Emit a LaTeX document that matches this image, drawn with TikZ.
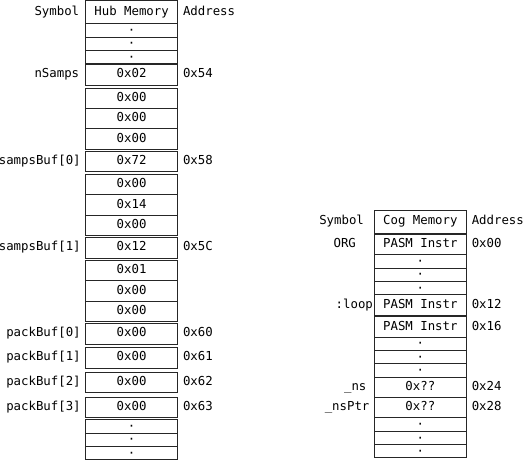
\documentclass[tikz,border=0pt]{standalone}
\usepackage{fontspec}
\setmainfont{DejaVu Sans Mono}
\usetikzlibrary{positioning}
\begin{document}
\begin{tikzpicture}[
    x=1bp,
    y=-1bp,
    font=\fontsize{12.4}{14}\selectfont,
    memcell/.style={
        rectangle,
        draw=black!85,
        line width=0.8bp,
        minimum width=92.5bp,
        minimum height=20.4bp,
        inner sep=0pt,
        outer sep=0pt,
        text height=9bp,
        text depth=2.6bp
      },
    dotcell/.style={memcell, minimum height=13.33bp, text height=8.4bp, text depth=0pt},
    headcell/.style={memcell, minimum height=23.3bp},
    symlabel/.style={inner sep=0pt, text height=9bp, text depth=2.6bp}
  ]
    \useasboundingbox (0,0) rectangle (525,460);

    % Hub memory column
    \node[headcell] (hubhead) at (131.6,11.95) {Hub Memory};
    \node[dotcell, below=0pt of hubhead] (hubdotA) {·};
    \node[dotcell, below=0pt of hubdotA] (hubdotB) {·};
    \node[dotcell, below=0pt of hubdotB] (hubdotC) {·};
    \node[memcell, below=1bp of hubdotC] (nsamps) {0x02};
    \node[memcell, below=3bp of nsamps] (nsampsB) {0x00};
    \node[memcell, below=0pt of nsampsB] (nsampsC) {0x00};
    \node[memcell, below=0pt of nsampsC] (nsampsD) {0x00};
    \node[memcell, below=1.8bp of nsampsD] (samps0) {0x72};
    \node[memcell, below=2.9bp of samps0] (samps0B) {0x00};
    \node[memcell, below=0pt of samps0B] (samps0C) {0x14};
    \node[memcell, below=0pt of samps0C] (samps0D) {0x00};
    \node[memcell, below=2.1bp of samps0D] (samps1) {0x12};
    \node[memcell, below=2.3bp of samps1] (samps1B) {0x01};
    \node[memcell, below=0pt of samps1B] (samps1C) {0x00};
    \node[memcell, below=0pt of samps1C] (samps1D) {0x00};
    \node[memcell, below=2.1bp of samps1D] (pack0) {0x00};
    \node[memcell, below=3.6bp of pack0] (pack1) {0x00};
    \node[memcell, below=4.3bp of pack1] (pack2) {0x00};
    \node[memcell, below=4.3bp of pack2] (pack3) {0x00};
    \node[dotcell, below=2.4bp of pack3] (hubdotD) {·};
    \node[dotcell, below=0pt of hubdotD] (hubdotE) {·};
    \node[dotcell, below=0pt of hubdotE] (hubdotF) {·};

    % Hub symbols and addresses
    \node[symlabel, left=6bp of hubhead] (hubsym) {Symbol};
    \node[symlabel, right=5bp of hubhead] (hubaddr) {Address};
    \node[symlabel, left=6bp of nsamps] (nsampssym) {nSamps};
    \node[symlabel, right=5bp of nsamps] (nsampsaddr) {0x54};
    \node[symlabel, left=4.5bp of samps0] (samps0sym) {sampsBuf[0]};
    \node[symlabel, right=5bp of samps0] (samps0addr) {0x58};
    \node[symlabel, left=4.5bp of samps1] (samps1sym) {sampsBuf[1]};
    \node[symlabel, right=5bp of samps1] (samps1addr) {0x5C};
    \node[symlabel, left=4.5bp of pack0] (pack0sym) {packBuf[0]};
    \node[symlabel, right=5bp of pack0] (pack0addr) {0x60};
    \node[symlabel, left=4.5bp of pack1] (pack1sym) {packBuf[1]};
    \node[symlabel, right=5bp of pack1] (pack1addr) {0x61};
    \node[symlabel, left=4.5bp of pack2] (pack2sym) {packBuf[2]};
    \node[symlabel, right=5bp of pack2] (pack2addr) {0x62};
    \node[symlabel, left=4.5bp of pack3] (pack3sym) {packBuf[3]};
    \node[symlabel, right=5bp of pack3] (pack3addr) {0x63};

    % Cog memory column
    \node[headcell] (coghead) at (420.35,221.65) {Cog Memory};
    \node[memcell, below=1bp of coghead] (org) {PASM Instr};
    \node[dotcell, below=0pt of org] (cogdotA) {·};
    \node[dotcell, below=0pt of cogdotA] (cogdotB) {·};
    \node[dotcell, below=0pt of cogdotB] (cogdotC) {·};
    \node[memcell, below=0pt of cogdotC] (loop) {PASM Instr};
    \node[memcell, below=1.6bp of loop] (loopB) {PASM Instr};
    \node[dotcell, below=0pt of loopB] (cogdotD) {·};
    \node[dotcell, below=0pt of cogdotD] (cogdotE) {·};
    \node[dotcell, below=0pt of cogdotE] (cogdotF) {·};
    \node[memcell, below=0pt of cogdotF] (ns) {0x??};
    \node[memcell, below=0pt of ns] (nsptr) {0x??};
    \node[dotcell, below=0pt of nsptr] (cogdotG) {·};
    \node[dotcell, below=0pt of cogdotG] (cogdotH) {·};
    \node[dotcell, below=0pt of cogdotH] (cogdotI) {·};

    % Cog symbols and addresses
    \node[symlabel, left=10bp of coghead] (cogsym) {Symbol};
    \node[symlabel, right=5bp of coghead] (cogaddr) {Address};
    \node[symlabel, left=18bp of org] (orgsym) {ORG};
    \node[symlabel, right=5bp of org] (orgaddr) {0x00};
    \node[symlabel, left=1bp of loop] (loopsym) {:loop};
    \node[symlabel, right=5bp of loop] (loopaddr) {0x12};
    \node[symlabel, right=5bp of loopB] (loopBaddr) {0x16};
    \node[symlabel, left=7.5bp of ns] (nssym) {\_ns};
    \node[symlabel, right=5bp of ns] (nsaddr) {0x24};
    \node[symlabel, left=4.5bp of nsptr] (nsptrsym) {\_nsPtr};
    \node[symlabel, right=5bp of nsptr] (nsptraddr) {0x28};
\end{tikzpicture}
\end{document}
